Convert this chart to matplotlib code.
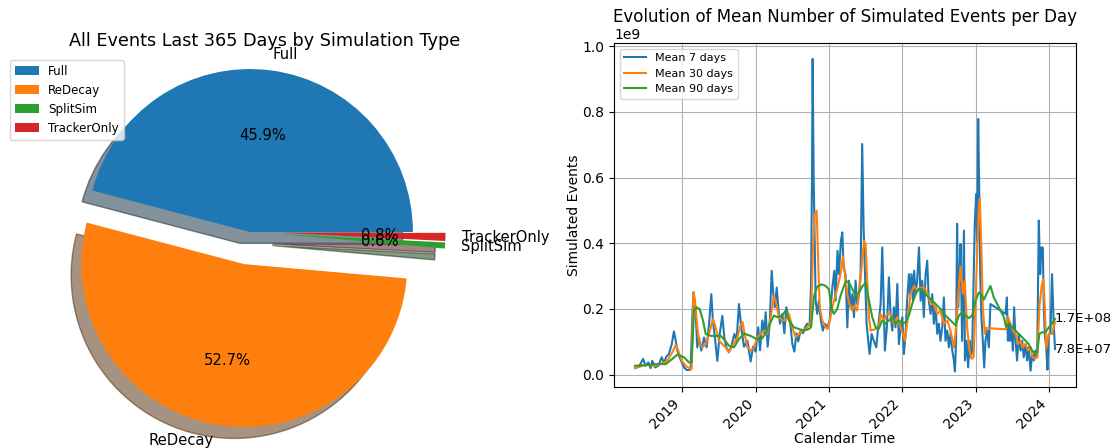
# Круговая диаграмма типов симуляции и динамика среднего числа событий в день

import numpy as np
import matplotlib.pyplot as plt

# Доли событий за последние 365 дней, %
sim_types = ['Full', 'ReDecay', 'SplitSim', 'TrackerOnly']
sim_share = [45.9, 52.7, 0.6, 0.8]

# Скользящие средние: день от 2019-01-01 и значение в единицах 1e9
days7 = [-236, -216, -196, -183, -170, -158, -150, -136, -120, -103, -91, -80,
         -67, -53, -42, -33, -25, -17, -3, 8, 21, 41, 50, 56, 66, 74, 83, 94,
         108, 121, 133, 144, 152, 162, 174, 186, 199, 209, 219, 232, 245, 259,
         270, 282, 294, 307, 324, 340, 352, 365, 378, 387, 398, 408, 415, 425,
         435, 445, 453, 461, 470, 478, 486, 498, 508, 518, 528, 538, 548, 558,
         568, 577, 589, 601, 611, 622, 634, 641, 646, 649, 654, 659, 664, 672,
         680, 690, 700, 710, 722, 734, 747, 757, 763, 773, 780, 790, 797, 803,
         813, 822, 830, 838, 847, 855, 863, 871, 880, 888, 896, 903, 910, 918,
         926, 933, 943, 954, 966, 979, 988, 996, 1003, 1009, 1019, 1029, 1037,
         1046, 1054, 1062, 1071, 1079, 1087, 1096, 1104, 1112, 1120, 1129, 1135,
         1142, 1149, 1155, 1162, 1170, 1179, 1187, 1195, 1203, 1212, 1220, 1228,
         1237, 1245, 1253, 1262, 1270, 1278, 1286, 1295, 1303, 1311, 1320, 1328,
         1336, 1345, 1353, 1358, 1364, 1369, 1374, 1381, 1386, 1394, 1403, 1408,
         1416, 1424, 1431, 1437, 1444, 1452, 1457, 1464, 1469, 1474, 1479, 1484,
         1490, 1497, 1504, 1510, 1519, 1527, 1535, 1610, 1617, 1622, 1627, 1633,
         1640, 1647, 1653, 1660, 1668, 1676, 1685, 1693, 1701, 1710, 1718, 1726,
         1735, 1743, 1751, 1759, 1768, 1776, 1783, 1789, 1796, 1801, 1806, 1813,
         1819, 1826, 1834, 1842, 1851, 1857]
mean7 = [0.020, 0.024, 0.048, 0.027, 0.037, 0.020, 0.042, 0.022, 0.027, 0.053,
         0.035, 0.055, 0.063, 0.093, 0.132, 0.103, 0.073, 0.058, 0.037, 0.022,
         0.014, 0.015, 0.185, 0.251, 0.195, 0.083, 0.113, 0.073, 0.113, 0.083,
         0.154, 0.245, 0.164, 0.113, 0.042, 0.124, 0.179, 0.113, 0.083, 0.068,
         0.088, 0.124, 0.103, 0.215, 0.140, 0.085, 0.103, 0.040, 0.085, 0.070,
         0.144, 0.074, 0.165, 0.126, 0.190, 0.085, 0.155, 0.316, 0.245, 0.205,
         0.265, 0.205, 0.155, 0.185, 0.126, 0.205, 0.175, 0.155, 0.093, 0.070,
         0.126, 0.101, 0.134, 0.126, 0.144, 0.155, 0.150, 0.277, 0.610, 0.961,
         0.610, 0.407, 0.225, 0.185, 0.225, 0.165, 0.134, 0.155, 0.144, 0.165,
         0.265, 0.316, 0.225, 0.377, 0.306, 0.407, 0.433, 0.326,
         0.306, 0.144, 0.286, 0.205, 0.245, 0.175, 0.286, 0.215, 0.245, 0.306,
         0.702, 0.448, 0.306, 0.155, 0.103, 0.063, 0.124, 0.103, 0.083, 0.165,
         0.215, 0.387, 0.225, 0.073, 0.144, 0.296, 0.185, 0.134, 0.205, 0.144,
         0.276, 0.093, 0.144, 0.175, 0.063, 0.124, 0.225, 0.306, 0.245, 0.306,
         0.225, 0.316, 0.245, 0.286, 0.387, 0.225, 0.286, 0.175, 0.306, 0.347,
         0.225, 0.185, 0.245, 0.155, 0.205, 0.124, 0.155, 0.103, 0.144, 0.235,
         0.103, 0.134, 0.083, 0.124, 0.073, 0.043, 0.010, 0.103, 0.459, 0.205,
         0.306, 0.397, 0.103, 0.438, 0.043,
         0.103, 0.022, 0.103, 0.053, 0.073, 0.306, 0.459, 0.550, 0.407, 0.778,
         0.560, 0.306, 0.175, 0.103, 0.022, 0.103, 0.134, 0.083, 0.215, 0.185,
         0.235, 0.103, 0.165, 0.103, 0.144, 0.073, 0.205, 0.103, 0.043, 0.124,
         0.073, 0.103, 0.053, 0.093, 0.043, 0.083, 0.012, 0.063, 0.043, 0.073,
         0.053, 0.469, 0.306, 0.387, 0.387, 0.205, 0.124, 0.083, 0.015, 0.124,
         0.124, 0.306, 0.144, 0.078]

days30 = [-236, -183, -133, -100, -75, -50, -33, -20, -3, 16, 41, 46, 55, 63,
          74, 86, 100, 116, 133, 152, 166, 182, 199, 216, 232, 249, 274, 290,
          300, 310, 324, 340, 357, 373, 390, 407, 423, 440, 456, 468, 481, 498,
          514, 531, 548, 564, 581, 597, 614, 631, 641, 651, 659, 669, 676, 684,
          697, 714, 724, 735, 747, 760, 773, 788, 800, 810, 821, 833, 846, 858,
          870, 880, 893, 905, 913, 921, 930, 938, 963, 979, 988, 1004, 1021,
          1037, 1054, 1071, 1087, 1099, 1109, 1120, 1137, 1154, 1170, 1187, 1203,
          1220, 1237, 1253, 1270, 1286, 1303, 1320, 1336, 1353, 1364, 1378, 1386,
          1398, 1407, 1419, 1431, 1441, 1451, 1461, 1469, 1477, 1482, 1489, 1497,
          1507, 1514, 1613, 1623, 1635, 1647, 1660, 1673, 1685, 1696, 1710, 1723,
          1735, 1746, 1756, 1768, 1779, 1790, 1798, 1806, 1813, 1826, 1842, 1857]
mean30 = [0.020, 0.030, 0.027, 0.035, 0.042, 0.068, 0.090, 0.073, 0.042, 0.027,
          0.017, 0.017, 0.251, 0.225, 0.144, 0.093, 0.083, 0.093, 0.124, 0.169,
          0.144, 0.103, 0.093, 0.083, 0.068, 0.088, 0.113, 0.150, 0.160, 0.124,
          0.083, 0.073, 0.083, 0.114, 0.124, 0.134, 0.124, 0.175, 0.240, 0.215,
          0.175, 0.165, 0.165, 0.185, 0.144, 0.114, 0.124, 0.134, 0.139, 0.150,
          0.165, 0.387, 0.489, 0.499, 0.357, 0.205, 0.165, 0.144, 0.139, 0.165,
          0.205, 0.235, 0.265, 0.306, 0.360, 0.306, 0.245, 0.215, 0.195, 0.210,
          0.195, 0.245, 0.326, 0.407, 0.397, 0.286, 0.175, 0.134, 0.139, 0.144,
          0.185, 0.165, 0.185, 0.185, 0.155, 0.175, 0.144, 0.124, 0.103, 0.155,
          0.245, 0.270, 0.255, 0.265, 0.265, 0.250, 0.215, 0.215, 0.185, 0.195,
          0.155, 0.165, 0.134, 0.083, 0.144, 0.270, 0.330, 0.245, 0.286, 0.144,
          0.073, 0.048, 0.053, 0.225, 0.357, 0.509, 0.535, 0.407, 0.205, 0.124,
          0.142, 0.138, 0.175, 0.155, 0.134, 0.124, 0.093, 0.103, 0.083, 0.093,
          0.073, 0.083, 0.053, 0.048, 0.053, 0.205, 0.270, 0.290, 0.205, 0.080,
          0.124, 0.124, 0.160]

days90 = [-236, -183, -133, -83, -50, -25, 8, 33, 46, 58, 70, 86, 103, 116, 141,
          166, 191, 207, 232, 257, 282, 307, 340, 365, 390, 415, 440, 456, 473,
          498, 514, 531, 556, 581, 606, 631, 641, 656, 672, 694, 714, 730, 744,
          755, 772, 788, 805, 816, 830, 846, 863, 880, 896, 913, 930, 946, 963,
          979, 996, 1012, 1029, 1046, 1062, 1079, 1096, 1112, 1129, 1145, 1162,
          1179, 1195, 1212, 1228, 1245, 1262, 1278, 1295, 1311, 1328, 1345, 1361,
          1378, 1394, 1411, 1427, 1444, 1461, 1477, 1490, 1502, 1519, 1535, 1552,
          1577, 1602, 1613, 1627, 1643, 1660, 1676, 1693, 1710, 1726, 1743, 1759,
          1768, 1779, 1793, 1809, 1826, 1842, 1857]
mean90 = [0.027, 0.029, 0.032, 0.032, 0.048, 0.061, 0.053, 0.037, 0.037, 0.195,
          0.205, 0.200, 0.164, 0.124, 0.118, 0.118, 0.118, 0.108, 0.088, 0.083,
          0.108, 0.125, 0.118, 0.110, 0.105, 0.125, 0.160, 0.180, 0.175, 0.180,
          0.195, 0.165, 0.144, 0.139, 0.134, 0.139, 0.144, 0.240, 0.268, 0.275,
          0.270, 0.260, 0.200, 0.185, 0.200, 0.240, 0.270, 0.285, 0.280, 0.262,
          0.240, 0.250, 0.268, 0.280, 0.225, 0.175, 0.144, 0.140, 0.165, 0.155,
          0.165, 0.175, 0.155, 0.165, 0.155, 0.160, 0.180, 0.215, 0.245, 0.262,
          0.258, 0.245, 0.235, 0.225, 0.215, 0.205, 0.195, 0.180, 0.170, 0.160,
          0.150, 0.180, 0.190, 0.180, 0.172, 0.180, 0.225, 0.250, 0.245, 0.228,
          0.250, 0.270, 0.235, 0.205, 0.175, 0.145, 0.155, 0.144, 0.134, 0.124,
          0.114, 0.103, 0.093, 0.073, 0.063, 0.068, 0.124, 0.129, 0.129, 0.144,
          0.155, 0.170]

start = np.datetime64('2019-01-01')


def to_dates(days):
    return start + np.array(days).astype('timedelta64[D]')


if __name__ == '__main__':

    fig = plt.figure(figsize=(11.16, 4.48), dpi=100)

    # Круговая диаграмма
    ax1 = fig.add_axes([0.0414, 0.0273, 0.3651, 0.9096])
    wedges, texts, autotexts = ax1.pie(sim_share, explode=(0, 0.2, 0.2, 0.2),
                                       labels=sim_types, autopct='%1.1f%%',
                                       shadow={'ox': -0.045, 'oy': -0.05},
                                       textprops={'fontsize': 10.6})
    ax1.set_title('All Events Last 365 Days by Simulation Type', fontsize=12.7,
                  pad=0, x=0.537, y=0.956)
    ax1.legend(wedges, sim_types, loc='upper left', fontsize=8.6,
               bbox_to_anchor=(0.009, 0.866), bbox_transform=fig.transFigure,
               borderaxespad=0)

    # Скользящие средние
    ax2 = fig.add_axes([0.5502, 0.1362, 0.414, 0.7672])
    ax2.plot(to_dates(days7), np.array(mean7) * 1e9, label='Mean 7 days')
    ax2.plot(to_dates(days30), np.array(mean30) * 1e9, label='Mean 30 days')
    ax2.plot(to_dates(days90), np.array(mean90) * 1e9, label='Mean 90 days')
    ax2.grid(True)
    ax2.legend(loc='upper left', fontsize=8)
    ax2.set_title('Evolution of Mean Number of Simulated Events per Day',
                  fontsize=12, pad=0, y=1.062)
    ax2.set_xlabel('Calendar Time', labelpad=0)
    ax2.set_ylabel('Simulated Events', labelpad=1)
    plt.setp(ax2.get_xticklabels(), rotation=45, ha='right')

    # Подписи последних значений
    last = to_dates(days7)[-1]
    ax2.text(last, mean90[-1] * 1e9, '%.1E' % (mean90[-1] * 1e9), va='center',
             fontsize=9.5)
    ax2.text(last, mean7[-1] * 1e9, '%.1E' % (mean7[-1] * 1e9), va='center',
             fontsize=9.5)

    fig.savefig('out.png', dpi=100)
